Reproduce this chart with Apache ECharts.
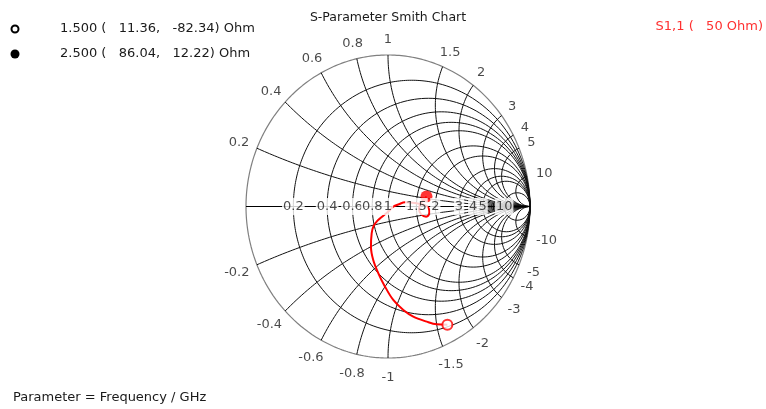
<!DOCTYPE html>
<html><head><meta charset="utf-8">
<script src="https://cdn.jsdelivr.net/npm/echarts@6/dist/echarts.min.js"></script>
<style>html,body{margin:0;padding:0;background:#fff}#c{width:766px;height:409px}</style>
</head><body><div id="c"></div>
<script>
// ---- data ----
const rTicks = [0.2, 0.4, 0.6, 0.8, 1, 1.5, 2, 3, 4, 5, 10];
const rTickLabels = ['0.2', '0.4', '0.6', '0.8', '1', '1.5', '2', '3', '4', '5', '10'];
const xTicks = [0.2, 0.4, 0.6, 0.8, 1, 1.5, 2, 3, 4, 5, 10];
const xTickLabels = ['0.2', '0.4', '0.6', '0.8', '1', '1.5', '2', '3', '4', '5', '10'];
const z0 = 50;
const markerFreq = [1.5, 2.5];           // GHz
const markerR = [11.36, 86.04];          // Ohm
const markerX = [-82.34, 12.22];         // Ohm
const markerText = ['1.500 (   11.36,   -82.34) Ohm', '2.500 (   86.04,   12.22) Ohm'];
// S1,1 trace (reflection coefficient), 1.5 GHz -> 2.5 GHz
const s11Re = [0.418, 0.343, 0.273, 0.178, 0.108, 0.037, -0.021, -0.068, -0.104, -0.120, -0.115, -0.102, -0.077, -0.049, -0.021, 0.007, 0.037, 0.077, 0.120, 0.190, 0.246, 0.271, 0.287, 0.291, 0.285, 0.268, 0.232, 0.218, 0.232, 0.254, 0.271];
const s11Im = [-0.781, -0.778, -0.760, -0.727, -0.683, -0.617, -0.529, -0.441, -0.353, -0.265, -0.177, -0.129, -0.096, -0.073, -0.051, -0.030, -0.001, 0.015, 0.028, 0.023, 0.013, 0.003, -0.013, -0.036, -0.059, -0.067, -0.050, -0.017, 0.023, 0.046, 0.066];

// ---- helpers ----
const GRID = {left: 246, top: 55, width: 284, height: 303};
const cx = GRID.left + GRID.width / 2, cy = GRID.top + GRID.height / 2;
const FONT = '"DejaVu Sans", sans-serif';
const FS = 13;
const ctx = document.createElement('canvas').getContext('2d');
ctx.font = FS + 'px ' + FONT;
const tw = s => ctx.measureText(s).width;

function gammaOf(r, x) { // normalized impedance -> reflection coeff
  const d = (r + 1) * (r + 1) + x * x;
  return [(r * r - 1 + x * x) / d, (2 * x) / d];
}
function circlePts(c0, c1, rad, n) {
  const pts = [];
  for (let i = 0; i <= n; i++) { const a = 2 * Math.PI * i / n; pts.push([c0 + rad * Math.cos(a), c1 + rad * Math.sin(a)]); }
  return pts;
}
function arcPts(x, n) {
  const pts = [];
  for (let i = 0; i < n; i++) { const t = i / n; const r = t / (1 - t); pts.push(gammaOf(r, x)); }
  pts.push([1, 0]);
  return pts;
}
const gridColor = '#111';
function lineSeries(data, color, width, z) {
  return {type: 'line', data, showSymbol: false, symbol: 'none', silent: true, animation: false,
    lineStyle: {color, width: width || 1}, z: z || 1, clip: false};
}

const series = [];
series.push(lineSeries(circlePts(0, 0, 1, 400), '#808080', 1.2, 1));
rTicks.forEach(r => series.push(lineSeries(circlePts(r / (r + 1), 0, 1 / (r + 1), 360), gridColor)));
xTicks.forEach(x => { series.push(lineSeries(arcPts(x, 400), gridColor)); series.push(lineSeries(arcPts(-x, 400), gridColor)); });
series.push(lineSeries([[-1, 0], [1, 0]], '#000', 1, 1));

// trace
series.push({type: 'line', data: s11Re.map((v, i) => [v, s11Im[i]]), showSymbol: false, symbol: 'none',
  smooth: 0.35, silent: true, animation: false, lineStyle: {color: '#ff0000', width: 2}, z: 3, clip: false});

// markers
const mk = markerR.map((r, i) => gammaOf(r / z0, markerX[i] / z0));
series.push({type: 'scatter', data: [mk[0]], symbol: 'circle', symbolSize: 10, silent: true, animation: false,
  itemStyle: {color: '#fff', borderColor: '#ff0000', borderWidth: 2}, z: 4, clip: false});
series.push({type: 'scatter', data: [mk[1]], symbol: 'circle', symbolSize: 12, silent: true, animation: false,
  itemStyle: {color: '#ff0000'}, z: 4, clip: false});

// resistance labels on the real axis (white boxes)
series.push({type: 'scatter', symbolSize: 0, silent: true, animation: false, z: 10, clip: false,
  data: rTicks.map((r, i) => ({value: [(r - 1) / (r + 1), 0], label: {formatter: rTickLabels[i]}})),
  label: {show: true, position: 'inside', color: '#1a1a1a', fontSize: FS, fontFamily: FONT,
    backgroundColor: '#fff', padding: [2, 1, 2, 1]}});

// reactance labels round the outside
const xl = [];
xTicks.forEach((x, i) => {
  [1, -1].forEach(s => {
    const txt = (s < 0 ? '-' : '') + xTickLabels[i];
    const th = Math.PI - 2 * Math.atan(s * x);
    const c = Math.cos(th), sn = Math.sin(th);
    const w = tw(txt);
    const dx = c * (w / 2 + 2);
    const dy = -sn * (sn > 0 ? 8 : 12);
    xl.push({value: [1.05 * c, 1.05 * sn], label: {formatter: txt, offset: [dx, dy]}});
  });
});
series.push({type: 'scatter', symbolSize: 0, silent: true, animation: false, z: 10, clip: false, data: xl,
  label: {show: true, position: 'inside', color: '#1a1a1a', fontSize: FS, fontFamily: FONT}});

const chart = echarts.init(document.getElementById('c'), null, {renderer: 'canvas'});
chart.setOption({
  animation: false,
  backgroundColor: '#fff',
  grid: Object.assign({outerBoundsMode: 'none', containLabel: false}, GRID),
  xAxis: {type: 'value', min: -1, max: 1, show: false},
  yAxis: {type: 'value', min: -1, max: 1, show: false},
  series,
  graphic: [
    {type: 'text', x: cx, y: 18, style: {text: 'S-Parameter Smith Chart', font: '12.5px ' + FONT, fill: '#1a1a1a', align: 'center', verticalAlign: 'middle'}},
    {type: 'circle', shape: {cx: 15, cy: 29, r: 3.5}, style: {fill: '#fff', stroke: '#000', lineWidth: 2}},
    {type: 'circle', shape: {cx: 15, cy: 54, r: 4.5}, style: {fill: '#000'}},
    {type: 'text', x: 60, y: 29, style: {text: markerText[0], font: FS + 'px ' + FONT, fill: '#1a1a1a', verticalAlign: 'middle'}},
    {type: 'text', x: 60, y: 54, style: {text: markerText[1], font: FS + 'px ' + FONT, fill: '#1a1a1a', verticalAlign: 'middle'}},
    {type: 'text', x: 763, y: 27, style: {text: 'S1,1 (   50 Ohm)', font: FS + 'px ' + FONT, fill: '#ff3030', align: 'right', verticalAlign: 'middle'}},
    {type: 'text', x: 13, y: 398, style: {text: 'Parameter = Frequency / GHz', font: FS + 'px ' + FONT, fill: '#1a1a1a', verticalAlign: 'middle'}}
  ]
});
</script>
</body></html>
